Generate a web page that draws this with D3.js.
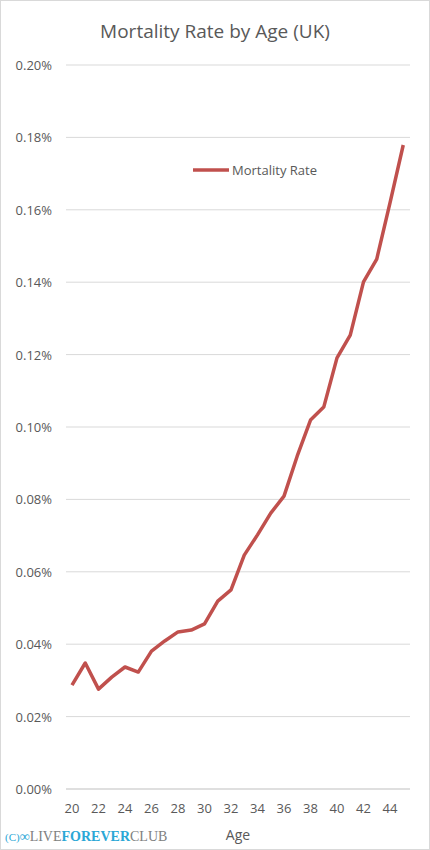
<!DOCTYPE html><html><head><meta charset="utf-8"><script src="https://cdn.jsdelivr.net/npm/d3@7"></script>
<style>body{margin:0;background:#fff}text{font-family:"Open Sans","Noto Sans",sans-serif}</style></head><body>
<svg id="c" width="430" height="850"></svg>
<script>
const ages=d3.range(20,46);
const rates=[0.0287,0.0348,0.0276,0.0309,0.0337,0.0323,0.0381,0.0409,0.0434,0.0439,0.0456,0.0519,0.0550,0.0646,0.0702,0.0762,0.0809,0.0920,0.1019,0.1055,0.1191,0.1254,0.1401,0.1464,0.1619,0.1779];
const yTicks=[0,0.02,0.04,0.06,0.08,0.10,0.12,0.14,0.16,0.18,0.20];
const xTicks=d3.range(20,45,2);
const svg=d3.select("#c");
svg.append("rect").attr("x",0.5).attr("y",0.5).attr("width",429).attr("height",849).attr("fill","#fff").attr("stroke","#d9d9d9");
const x=d3.scaleLinear().domain([20,44]).range([72,390]);
const y=d3.scaleLinear().domain([0,0.2]).range([789,65]);
svg.append("text").attr("x",215).attr("y",38).attr("text-anchor","middle").attr("font-size",19).attr("fill","#595959").text("Mortality Rate by Age (UK)");
svg.append("g").selectAll("line").data(yTicks).join("line").attr("x1",66).attr("x2",410).attr("y1",d=>y(d)).attr("y2",d=>y(d)).attr("stroke",(d)=>d===0?"#bfbfbf":"#d9d9d9");
svg.append("g").selectAll("text").data(yTicks).join("text").attr("x",52).attr("y",d=>y(d)+5).attr("text-anchor","end").attr("font-size",13).attr("fill","#595959").text(d=>d.toFixed(2)+"%");
svg.append("g").selectAll("text").data(xTicks).join("text").attr("x",d=>x(d)).attr("y",813).attr("text-anchor","middle").attr("font-size",13).attr("fill","#595959").text(d=>d);
svg.append("text").attr("x",238).attr("y",840).attr("text-anchor","middle").attr("font-size",14).attr("fill","#595959").text("Age");
const line=d3.line().x((d,i)=>x(ages[i])).y(d=>y(d));
svg.append("path").datum(rates).attr("d",line).attr("fill","none").attr("stroke","#c0504d").attr("stroke-width",3.5).attr("stroke-linejoin","round");
svg.append("line").attr("x1",193).attr("x2",229).attr("y1",170).attr("y2",170).attr("stroke","#c0504d").attr("stroke-width",3.5);
svg.append("text").attr("x",232).attr("y",175).attr("font-size",13).attr("fill","#595959").text("Mortality Rate");
const wm=svg.append("text").attr("x",5).attr("y",841).attr("font-size",14).attr("style","font-family:'Liberation Serif',serif");
wm.append("tspan").attr("fill","#2aa7d6").attr("font-size",11).text("(C)");
wm.append("tspan").attr("fill","#2aa7d6").attr("font-weight","bold").text("∞");
wm.append("tspan").attr("fill","#808080").text("LIVE");
wm.append("tspan").attr("fill","#2aa7d6").attr("font-weight","bold").text("FOREVER");
wm.append("tspan").attr("fill","#808080").text("CLUB");
</script></body></html>
